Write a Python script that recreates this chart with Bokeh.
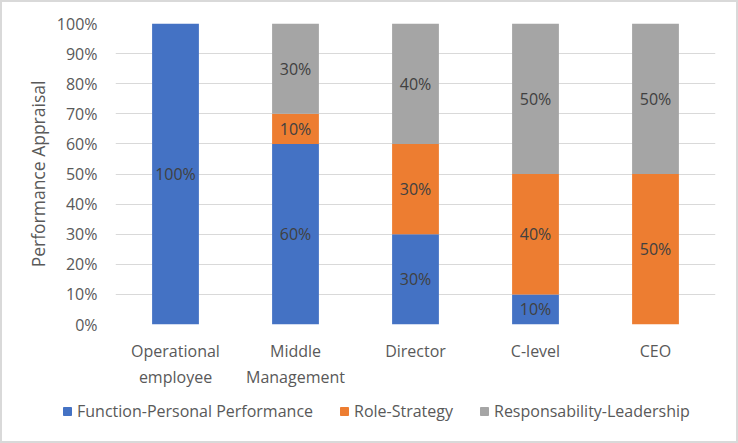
from bokeh.plotting import figure
from bokeh.models import ColumnDataSource, Legend, LegendItem, FixedTicker, NumeralTickFormatter, Range1d
from bokeh.core.properties import value
from bokeh.embed import file_html
from bokeh.resources import INLINE

categories = ["Operational\nemployee", "Middle\nManagement", "Director", "C-level", "CEO"]
function_personal = [1.0, 0.6, 0.3, 0.1, 0.0]
role_strategy = [0.0, 0.1, 0.3, 0.4, 0.5]
responsability = [0.0, 0.3, 0.4, 0.5, 0.5]
series_names = ["Function-Personal Performance", "Role-Strategy", "Responsability-Leadership"]
colors = ["#4472C4", "#ED7D31", "#A5A5A5"]
y_ticks = [i / 10 for i in range(11)]

FONT = "Open Sans"
TXT = "#595959"
FS = "16px"
EDGE = "#D9D9D9"

x = [i + 0.5 for i in range(len(categories))]
src = ColumnDataSource(dict(x=x, f=function_personal, r=role_strategy, s=responsability))

p = figure(width=738, height=390, output_backend="svg", toolbar_location=None,
           x_range=Range1d(0, len(categories)), y_range=Range1d(0, 1),
           min_border_left=115, min_border_right=23, min_border_top=23, min_border_bottom=65)
p.outline_line_color = None
p.background_fill_color = "white"
p.border_fill_color = None
p.styles = {"box-shadow": f"inset 2px 2px 0 -0px {EDGE}, inset -2px 0 0 0 {EDGE}"}

rs = p.vbar_stack(["f", "r", "s"], x="x", width=0.39, color=colors, line_color=None, source=src)

# data labels
lx, ly, lt = [], [], []
for i in range(len(categories)):
    base = 0.0
    for vals in (function_personal, role_strategy, responsability):
        v = vals[i]
        if v > 0:
            lx.append(x[i]); ly.append(base + v / 2); lt.append(f"{round(v*100)}%")
        base += v
p.text(x=lx, y=ly, text=lt, text_align="center", text_baseline="middle",
       text_font=value(FONT), text_font_size=FS, text_color="#404040")

p.xgrid.grid_line_color = None
p.ygrid.grid_line_color = "#D9D9D9"
p.ygrid.grid_line_width = 1
p.yaxis.ticker = FixedTicker(ticks=y_ticks)
p.yaxis.formatter = NumeralTickFormatter(format="0%")
p.xaxis.ticker = FixedTicker(ticks=x)
p.xaxis.major_label_overrides = {xx: c for xx, c in zip(x, categories)}

for ax in (p.xaxis[0], p.yaxis[0]):
    ax.axis_line_color = None
    ax.major_tick_line_color = None
    ax.minor_tick_line_color = None
    ax.major_label_text_font = FONT
    ax.major_label_text_font_size = FS
    ax.major_label_text_color = TXT
p.xaxis.major_label_standoff = 9
p.yaxis.major_label_standoff = 12
p.yaxis.axis_label = "Performance Appraisal"
p.yaxis.axis_label_text_font = FONT
p.yaxis.axis_label_text_font_size = "17.5px"
p.yaxis.axis_label_text_font_style = "normal"
p.yaxis.axis_label_text_color = TXT
p.yaxis.axis_label_standoff = 4

# legend strip (separate root so it is not frame-aligned with the chart)
lg = figure(width=738, height=53, output_backend="svg", toolbar_location=None,
            x_range=Range1d(0, 1), y_range=Range1d(0, 1),
            min_border_left=0, min_border_right=0, min_border_top=0, min_border_bottom=0)
lg.axis.visible = False
lg.grid.visible = False
lg.outline_line_color = None
lg.background_fill_color = None
lg.border_fill_color = None
lg.styles = {"box-shadow": f"inset 2px -2px 0 0 {EDGE}, inset -2px 0 0 0 {EDGE}"}
dummy = [lg.vbar(x=[-5], top=[-5], width=0.1, color=c) for c in colors]
legend = Legend(items=[LegendItem(label=n, renderers=[r]) for n, r in zip(series_names, dummy)],
                orientation="horizontal", location=(62, 21),
                label_text_font=FONT, label_text_font_size=FS, label_text_color=TXT,
                glyph_width=10, glyph_height=10, spacing=26, padding=0, margin=0,
                border_line_color=None, background_fill_alpha=0, label_standoff=5)
lg.add_layout(legend, "center")

open("out.html", "w").write(file_html([p, lg], INLINE))
